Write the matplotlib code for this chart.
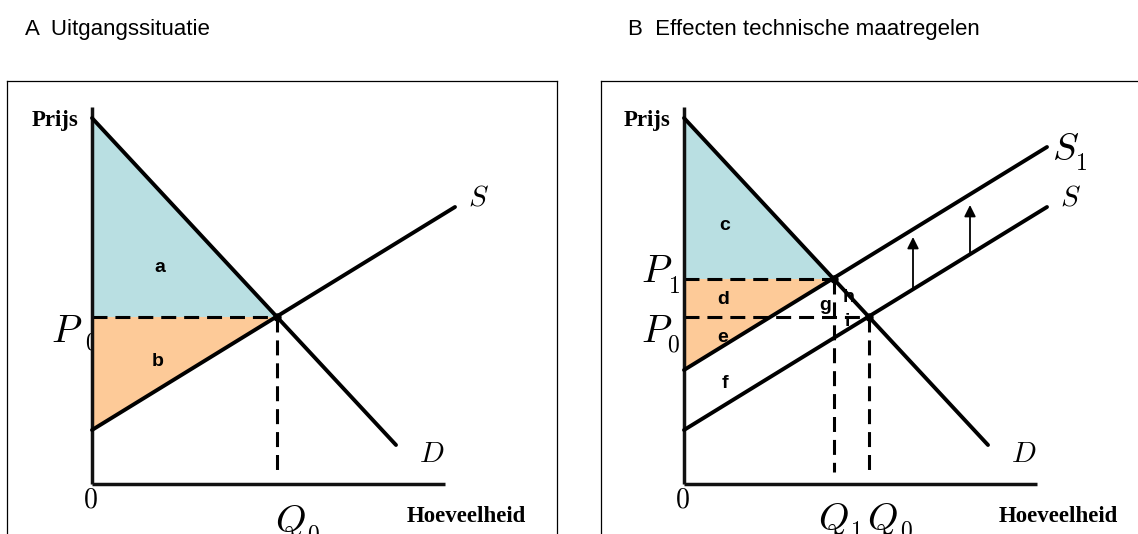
import matplotlib
matplotlib.use("Agg")
import matplotlib.pyplot as plt

plt.rcParams['mathtext.fontset'] = 'cm'

# curve end points (quantity, price)
demand_q = [0, 30.4]
demand_p = [36.6, 3.9]
supply_q = [0, 36.3]
supply_p = [5.4, 27.7]
supply1_p = [11.4, 33.7]

# equilibria
q0, p0 = 18.5, 16.7
q1, p1 = 15.0, 20.5

# shift arrows in panel B
arrow_q = [22.9, 28.6]
arrow_from = [19.4, 23.0]
arrow_to = [24.7, 27.9]

# area labels
labels_a = {'a': (6.8, 21.7), 'b': (6.6, 12.2)}
labels_b = {'c': (4.1, 25.9), 'd': (3.9, 18.4), 'e': (3.9, 14.6), 'f': (4.1, 10.1),
            'g': (14.1, 17.9), 'h': (16.5, 18.6), 'i': (16.3, 16.2)}

blue = '#b9dfe2'
orange = '#fdca98'
W, H = 1138, 534

fig = plt.figure(figsize=(W / 100, H / 100), dpi=100)
fig.text(25 / W, 1 - 30 / H, 'A  Uitgangssituatie', fontsize=16,
         family='Liberation Sans', va='center', ha='left')
fig.text(628 / W, 1 - 30 / H, 'B  Effecten technische maatregelen', fontsize=16,
         family='Liberation Sans', va='center', ha='left')

axA = fig.add_axes([7 / W, 0, 550 / W, 453 / H])
axB = fig.add_axes([601 / W, 0, 537 / W, 453 / H])
axA.set_xlim(-8.5, 46.5)
axB.set_xlim(-8.3, 45.4)

dash = (4.9, 2.6)
serif_b = dict(family='Liberation Serif', fontweight='bold', fontsize=16.5)
sans_b = dict(family='Liberation Sans', fontweight='bold', fontsize=14, ha='center', va='center')

for ax in (axA, axB):
    ax.set_ylim(-5.0, 40.3)
    ax.set_xticks([])
    ax.set_yticks([])
    for s in ax.spines.values():
        s.set_linewidth(0.9)
    ax.spines['bottom'].set_visible(False)
    # axes of the diagram
    ax.plot([0, 0], [0, 37.7], color='#111111', lw=2.5, zorder=4, solid_capstyle='butt')
    ax.plot([0, 35.3], [0, 0], color='#111111', lw=2.5, zorder=4, solid_capstyle='butt')
    ax.plot(demand_q, demand_p, color='black', lw=2.8, zorder=5, solid_capstyle='round')
    ax.plot(supply_q, supply_p, color='black', lw=2.8, zorder=5, solid_capstyle='round')
    ax.text(-1.4, 35.8, 'Prijs', ha='right', va='baseline', **serif_b)
    ax.text(31.5, -3.8, 'Hoeveelheid', ha='left', va='baseline', **serif_b)
    ax.text(-0.2, -1.5, '$0$', fontsize=20, ha='center', va='center')
    ax.text(37.6, 27.9, '$S$', fontsize=21, ha='left', va='baseline')
    ax.text(32.7, 2.2, '$D$', fontsize=21, ha='left', va='baseline')

axB.spines['right'].set_visible(False)

# panel A
axA.fill([0, q0, 0], [demand_p[0], p0, p0], color=blue, lw=0, zorder=1)
axA.fill([0, q0, 0], [p0, p0, supply_p[0]], color=orange, lw=0, zorder=1)
axA.plot([0, q0], [p0, p0], '--', color='black', lw=2.2, dashes=dash, zorder=3)
axA.plot([q0, q0], [p0, 1.2], '--', color='black', lw=2.2, dashes=dash, zorder=3)
axA.plot([q0], [p0], 'o', color='black', ms=5, zorder=6)
axA.text(-1.0, 14.2, '$P$', fontsize=28, ha='right', va='baseline')
# subscript partly hidden behind the orange area, as in the original
axA.text(-0.7, 13.4, '$0$', fontsize=17, ha='left', va='baseline', zorder=0.5)
axA.text(18.3, -4.8, '$Q$', fontsize=28, ha='left', va='baseline')
axA.text(21.5, -5.7, '$0$', fontsize=17, ha='left', va='baseline')
for k, (x, y) in labels_a.items():
    axA.text(x, y, k, **sans_b)

# panel B
axB.fill([0, q1, 0], [demand_p[0], p1, p1], color=blue, lw=0, zorder=1)
axB.fill([0, q1, 0], [p1, p1, supply1_p[0]], color=orange, lw=0, zorder=1)
axB.plot(supply_q, supply1_p, color='black', lw=2.8, zorder=5, solid_capstyle='round')
axB.plot([0, q1], [p1, p1], '--', color='black', lw=2.2, dashes=dash, zorder=3)
axB.plot([0, q0], [p0, p0], '--', color='black', lw=2.2, dashes=dash, zorder=3)
axB.plot([q1, q1], [p1, 1.2], '--', color='black', lw=2.2, dashes=dash, zorder=3)
axB.plot([q0, q0], [p0, 1.2], '--', color='black', lw=2.2, dashes=dash, zorder=3)
axB.plot([q0, q1], [p0, p1], 'o', color='black', ms=5, zorder=6)
for x, y0, y1 in zip(arrow_q, arrow_from, arrow_to):
    axB.annotate('', xy=(x, y1), xytext=(x, y0),
                 arrowprops=dict(arrowstyle='-|>', color='black', lw=1.3,
                                 mutation_scale=17, shrinkA=0, shrinkB=0), zorder=4)
axB.text(-1.2, 20.2, '$P$', fontsize=28, ha='right', va='baseline')
axB.text(-1.6, 19.1, '$1$', fontsize=17, ha='left', va='baseline')
axB.text(-1.2, 14.2, '$P$', fontsize=28, ha='right', va='baseline')
axB.text(-1.7, 13.2, '$0$', fontsize=17, ha='left', va='baseline')
axB.text(36.8, 32.4, '$S$', fontsize=28, ha='left', va='baseline')
axB.text(39.1, 31.4, '$1$', fontsize=17, ha='left', va='baseline')
axB.text(13.4, -4.6, '$Q$', fontsize=28, ha='left', va='baseline')
axB.text(16.6, -5.4, '$1$', fontsize=17, ha='left', va='baseline')
axB.text(18.3, -4.6, '$Q$', fontsize=28, ha='left', va='baseline')
axB.text(21.6, -5.4, '$0$', fontsize=17, ha='left', va='baseline')
for k, (x, y) in labels_b.items():
    axB.text(x, y, k, **sans_b)

fig.savefig('out.png', dpi=100)
